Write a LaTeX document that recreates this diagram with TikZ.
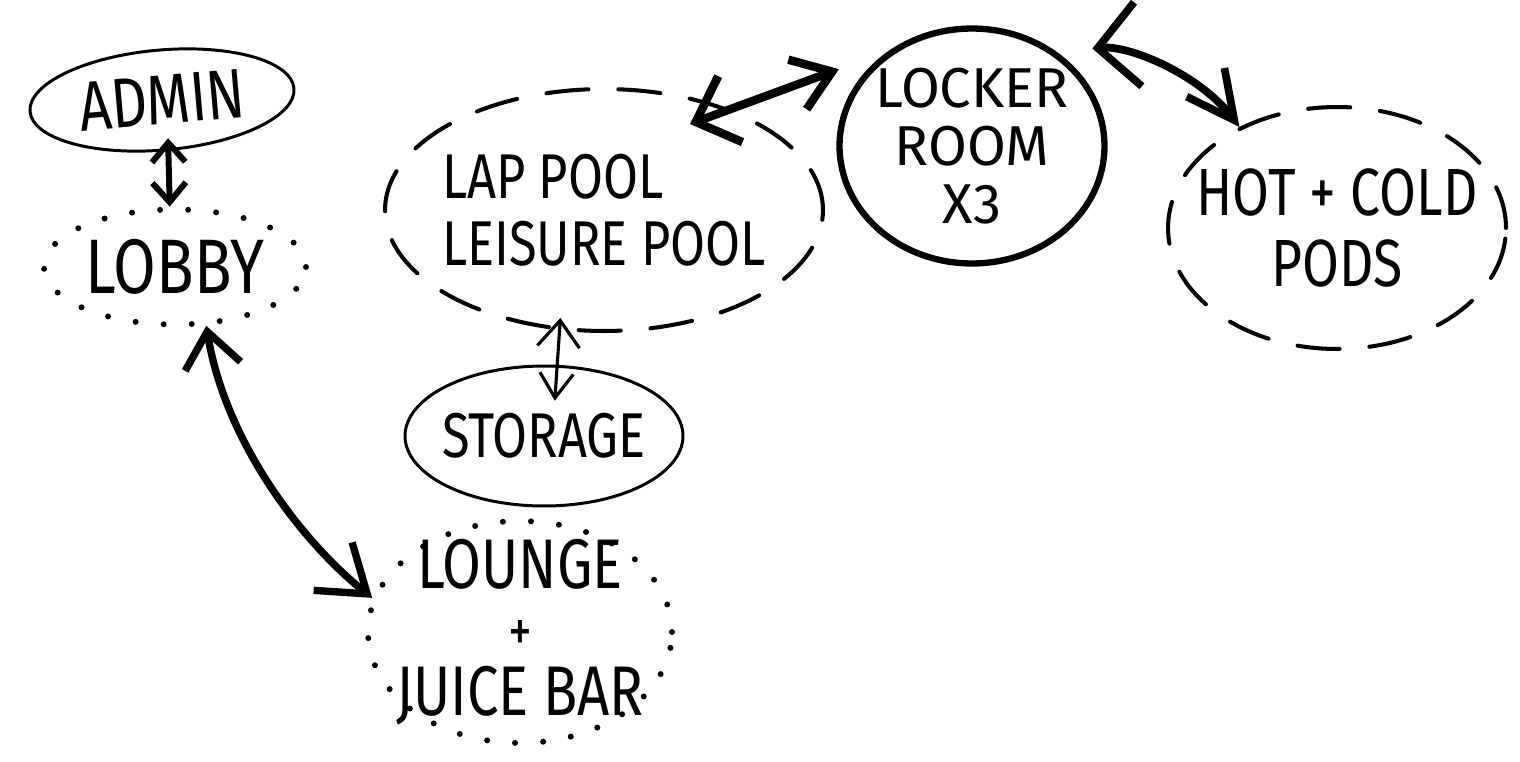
\documentclass[tikz,border=0pt]{standalone}
\usepackage{fontspec}
\newfontfamily\hand{Fira Sans}[FakeStretch=0.8]
\newfontfamily\handwide{Fira Sans}
\usetikzlibrary{arrows.meta,shapes.geometric,calc}
\begin{document}
\begin{tikzpicture}[x=0.02cm,y=-0.02cm,
  zone/.style={ellipse, inner sep=-0.8cm, text=black},
  solidzone/.style={zone, draw, line width=1.7pt},
  thickzone/.style={zone, draw, line width=3.6pt},
  dashzone/.style={zone, draw, line width=2.3pt, line cap=round, dash pattern=on 24pt off 17pt},
  dotzone/.style={zone, draw, line width=3.4pt, line cap=round, dash pattern=on 0pt off 16pt},
  link/.style={line width=3.6pt, line cap=round},
  thinlink/.style={line width=1.8pt, line cap=round}
]
\fill[white] (0,0) rectangle (1520,761);
\useasboundingbox (0,0) rectangle (1520,761);

\node[solidzone, rotate=5, minimum width=5.3cm, minimum height=2.0cm,
      font=\hand\fontsize{40}{40}\selectfont] (admin) at (162,100) {ADMIN};
\node[dotzone, minimum width=5.24cm, minimum height=2.3cm,
      font=\hand\fontsize{44}{44}\selectfont] (lobby) at (175,267) {LOBBY};
\node[dashzone, minimum width=8.76cm, minimum height=4.84cm, align=left,
      font=\hand\fontsize{36}{38}\selectfont] (lap) at (604,210) {LAP POOL\\LEISURE POOL};
\node[solidzone, minimum width=5.56cm, minimum height=2.8cm,
      font=\hand\fontsize{36}{36}\selectfont] (storage) at (544,436) {STORAGE};
\node[thickzone, minimum width=5.3cm, minimum height=4.7cm, align=center,
      font=\handwide\fontsize{32}{33}\selectfont] (locker) at (972,146) {LOCKER\\ROOM\\X3};
\node[dashzone, minimum width=6.76cm, minimum height=4.84cm, align=center,
      font=\hand\fontsize{38}{40}\selectfont] (hot) at (1337,228) {HOT + COLD\\PODS};
\node[dotzone, minimum width=6.08cm, minimum height=4.44cm, align=center,
      font=\hand\fontsize{40}{30}\selectfont] (lounge) at (520,632)
      {LOUNGE\\[6pt]{\fontsize{34}{30}\selectfont +}\\[6pt]JUICE BAR};

% admin <-> lobby
\draw[link, line width=3.4pt,
      {Straight Barb[length=11pt,width=19pt]}-{Straight Barb[length=11pt,width=19pt]}]
  ($(admin.center)!0.75!(admin.-86)$) -- (lobby.95);
% lobby <-> lounge
\draw[link, line width=4.2pt,
      {Straight Barb[length=20pt,width=32pt]}-{Straight Barb[length=25pt,width=35pt]}]
  (lobby.-62) .. controls (225,440) and (300,540) .. (lounge.167);
% lap <-> storage
\draw[thinlink,
      {Straight Barb[length=15pt,width=24pt]}-{Straight Barb[length=14pt,width=19pt]}]
  ($(lap.center)!0.9!(lap.-112)$) -- ($(storage.center)!0.5!(storage.73)$);
% lap <-> locker
\draw[link, line width=4.8pt,
      {Straight Barb[length=21pt,width=40pt]}-{Straight Barb[length=21pt,width=30pt]}]
  ($(lap.center)!0.8!(lap.45)$) -- ($(locker.center)!1.17!(locker.150)$);
% locker <-> hot
\draw[link, line width=4.4pt,
      {Straight Barb[length=23pt,width=48pt]}-{Straight Barb[length=27pt,width=27pt]}]
  ($(locker.center)!1.2!(locker.39)$) .. controls (1130,45) and (1200,75) .. (hot.134);
\end{tikzpicture}
\end{document}
